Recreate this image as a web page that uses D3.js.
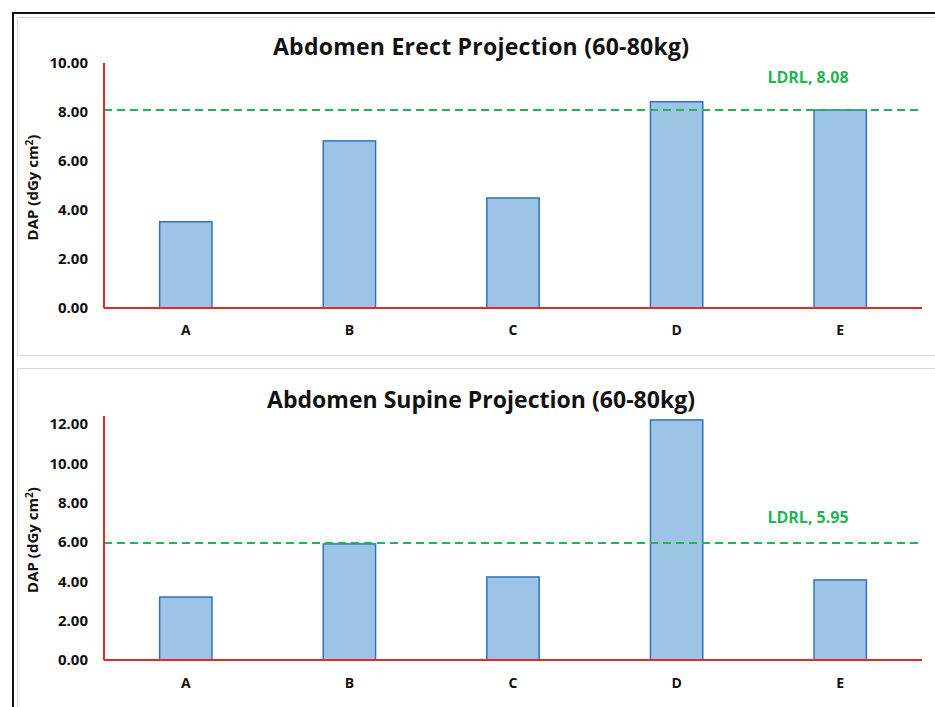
<!DOCTYPE html>
<html>
<head>
<meta charset="utf-8">
<script src="https://cdn.jsdelivr.net/npm/d3@7"></script>
<style>
  html, body { margin: 0; padding: 0; background: #fff; }
  svg { display: block; }
  text { font-family: "Open Sans", Lato, sans-serif; }
</style>
</head>
<body>
<svg id="chart" width="935" height="707"></svg>
<script>
// Categories shared by both panels
const categories = ["A", "B", "C", "D", "E"];

// Dose-area product per site, erect projection
const erectValues = [3.52, 6.82, 4.49, 8.42, 8.08];
const erectLdrl = 8.08;
const erectTicks = [0, 2, 4, 6, 8, 10];

// Dose-area product per site, supine projection
const supineValues = [3.2, 5.9, 4.22, 12.2, 4.07];
const supineLdrl = 5.95;
const supineTicks = [0, 2, 4, 6, 8, 10, 12];

const FONT = "'Open Sans', Lato, sans-serif";

const panels = [
  { title: "Abdomen Erect Projection (60-80kg)", values: erectValues, ldrl: erectLdrl,
    ticks: erectTicks, yMax: 10, top: 17, bottom: 355, plotTop: 63, plotBottom: 308,
    titleY: 55, ldrlLabelY: 83, xLabelY: 337 },
  { title: "Abdomen Supine Projection (60-80kg)", values: supineValues, ldrl: supineLdrl,
    ticks: supineTicks, yMax: 12.4, top: 368, bottom: 720, plotTop: 416, plotBottom: 660,
    titleY: 408, ldrlLabelY: 523, xLabelY: 690 }
];

const svg = d3.select("#chart");

// outer frame
svg.append("rect")
  .attr("x", 13).attr("y", 13).attr("width", 940).attr("height", 720)
  .attr("fill", "none").attr("stroke", "#111").attr("stroke-width", 2);

const plotLeft = 104, plotRight = 922;

panels.forEach(p => {
  const g = svg.append("g");

  // panel frame
  g.append("rect")
    .attr("x", 17.5).attr("y", p.top + 0.5)
    .attr("width", 930).attr("height", p.bottom - p.top)
    .attr("fill", "#fff").attr("stroke", "#d9d9d9").attr("stroke-width", 1);

  const x = d3.scaleBand().domain(categories).range([plotLeft, plotRight]).paddingInner(0.68).paddingOuter(0.34);
  const y = d3.scaleLinear().domain([0, p.yMax]).range([p.plotBottom, p.plotTop]);

  // title
  g.append("text")
    .attr("x", 481).attr("y", p.titleY)
    .attr("text-anchor", "middle")
    .attr("font-size", 23).attr("font-weight", 700).attr("fill", "#111")
    .attr("textLength", p.title.length > 34 ? 428 : 416)
    .text(p.title);

  // y axis tick labels
  const yAxis = d3.axisLeft(y).tickValues(p.ticks).tickFormat(d3.format(".2f")).tickSize(0).tickPadding(16);
  const ya = g.append("g").attr("transform", `translate(${plotLeft},0)`).call(yAxis);
  ya.select(".domain").remove();
  ya.selectAll("text")
    .attr("font-family", FONT)
    .attr("font-size", 15).attr("font-weight", 700).attr("fill", "#111");

  // y axis title
  const yt = g.append("text")
    .attr("transform", `translate(38,${(p.plotTop + p.plotBottom) / 2 + 2}) rotate(-90)`)
    .attr("text-anchor", "middle")
    .attr("font-size", 15).attr("font-weight", 700).attr("fill", "#111");
  yt.append("tspan").text("DAP (dGy cm");
  yt.append("tspan").attr("dy", -5).attr("font-size", 10).text("2");
  yt.append("tspan").attr("dy", 5).text(")");

  // bars
  g.selectAll("rect.bar")
    .data(p.values)
    .join("rect")
    .attr("class", "bar")
    .attr("x", (d, i) => x(categories[i]))
    .attr("width", x.bandwidth())
    .attr("y", d => y(d))
    .attr("height", d => y(0) - y(d))
    .attr("fill", "#9dc3e6")
    .attr("stroke", "#2e75b6")
    .attr("stroke-width", 1.5);

  // x axis labels
  const xAxis = d3.axisBottom(x).tickSize(0).tickPadding(0);
  const xa = g.append("g").attr("transform", `translate(0,${p.xLabelY - 12})`).call(xAxis);
  xa.select(".domain").remove();
  xa.selectAll("text")
    .attr("font-family", FONT)
    .attr("font-size", 14).attr("font-weight", 700).attr("fill", "#111");

  // reference level line
  g.append("line")
    .attr("x1", plotLeft).attr("x2", plotRight)
    .attr("y1", y(p.ldrl)).attr("y2", y(p.ldrl))
    .attr("stroke", "#1fb552").attr("stroke-width", 2)
    .attr("stroke-dasharray", "8,5");

  g.append("text")
    .attr("x", 808).attr("y", p.ldrlLabelY)
    .attr("text-anchor", "middle")
    .attr("font-size", 16).attr("font-weight", 700).attr("fill", "#1fb552")
    .text(`LDRL, ${p.ldrl.toFixed(2)}`);

  // red axis lines
  g.append("line")
    .attr("x1", plotLeft).attr("x2", plotLeft)
    .attr("y1", p.plotTop).attr("y2", p.plotBottom)
    .attr("stroke", "#e02b2b").attr("stroke-width", 2);
  g.append("line")
    .attr("x1", plotLeft).attr("x2", plotRight)
    .attr("y1", p.plotBottom).attr("y2", p.plotBottom)
    .attr("stroke", "#e02b2b").attr("stroke-width", 2);
});
</script>
</body>
</html>
